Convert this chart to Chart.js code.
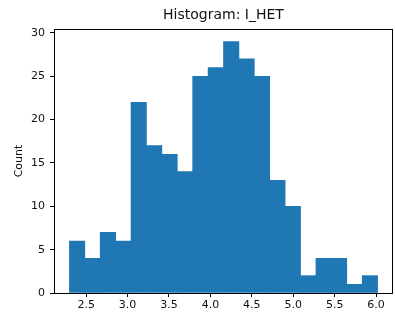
<!DOCTYPE html>
<html>
<head>
<meta charset="utf-8">
<script src="https://cdn.jsdelivr.net/npm/chart.js@4/dist/chart.umd.min.js"></script>
<style>
html,body{margin:0;padding:0;background:#fff;}
#wrap{width:395px;height:314px;}
</style>
</head>
<body>
<div id="wrap"><canvas id="c" width="395" height="314"></canvas></div>
<script>
// Histogram bins (left edges) and counts
const binStart = 2.298;
const binWidth = 0.186;
const counts = [6, 4, 7, 6, 22, 17, 16, 14, 25, 26, 29, 27, 25, 13, 10, 2, 4, 4, 1, 2];
const xTickValues = [2.5, 3.0, 3.5, 4.0, 4.5, 5.0, 5.5, 6.0];
const yTickValues = [0, 5, 10, 15, 20, 25, 30];
const chartTitle = "Histogram: I_HET";
const yLabel = "Count";

const points = counts.map((c, i) => ({ x: binStart + binWidth * (i + 0.5), y: c }));
const xMin = binStart - binWidth, xMax = binStart + binWidth * (counts.length + 1);
const yMax = Math.max(...counts) * 1.05;

const frame = {
  id: 'frame',
  afterDraw(chart) {
    const a = chart.chartArea, ctx = chart.ctx;
    ctx.save();
    ctx.strokeStyle = '#000';
    ctx.lineWidth = 1;
    ctx.strokeRect(Math.round(a.left) + 0.5, Math.round(a.top) + 0.5, Math.round(a.right - a.left) - 1, Math.round(a.bottom - a.top));
    ctx.restore();
  }
};

new Chart(document.getElementById('c'), {
  type: 'bar',
  data: {
    datasets: [{
      data: points,
      backgroundColor: '#1f77b4',
      borderWidth: 0,
      barPercentage: 1,
      categoryPercentage: 1,
      grouped: false
    }]
  },
  options: {
    responsive: false,
    animation: false,
    devicePixelRatio: 1,
    layout: { padding: { left: 0, right: 2, top: 0, bottom: 0 } },
    plugins: {
      legend: { display: false },
      tooltip: { enabled: false },
      title: {
        display: true,
        text: chartTitle,
        fullSize: false,
        color: '#111',
        font: { family: 'DejaVu Sans', size: 14, weight: 'normal', lineHeight: 1.2 },
        padding: { top: 7, bottom: 5.2 }
      }
    },
    scales: {
      x: {
        type: 'linear',
        min: xMin,
        max: xMax,
        offset: false,
        afterBuildTicks: s => { s.ticks = xTickValues.map(v => ({ value: v })); },
        afterFit: s => { s.height = 21; },
        grid: { offset: false, drawOnChartArea: false, drawTicks: true, tickLength: 4, color: '#000', tickColor: '#000' },
        border: { display: false },
        ticks: {
          color: '#111',
          padding: 2,
          maxRotation: 0,
          autoSkip: false,
          font: { family: 'DejaVu Sans', size: 11 },
          callback: v => Number(v).toFixed(1)
        }
      },
      y: {
        min: 0,
        max: yMax,
        afterBuildTicks: s => { s.ticks = yTickValues.map(v => ({ value: v })); },
        afterFit: s => { s.width = 54; },
        grid: { drawOnChartArea: false, drawTicks: true, tickLength: 4, color: '#000', tickColor: '#000' },
        border: { display: false },
        title: {
          display: true,
          text: yLabel,
          color: '#111',
          font: { family: 'DejaVu Sans', size: 11 },
          padding: { top: 13, bottom: 0 }
        },
        ticks: {
          color: '#111',
          padding: 5,
          autoSkip: false,
          font: { family: 'DejaVu Sans', size: 11 },
          callback: v => String(v)
        }
      }
    }
  },
  plugins: [frame]
});
</script>
</body>
</html>
